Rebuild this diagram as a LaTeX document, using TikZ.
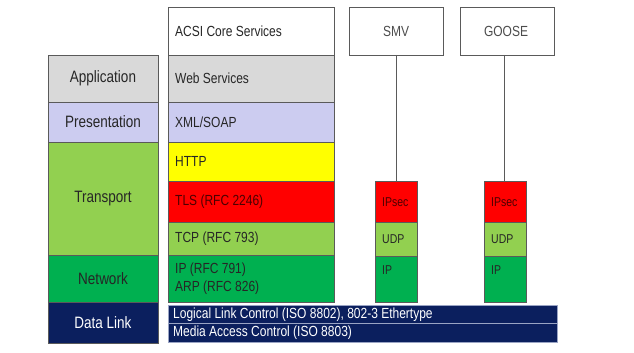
\documentclass[tikz,border=0pt]{standalone}
\usepackage{fontspec}
\setmainfont{Liberation Sans}
\usepackage{graphicx}
\definecolor{edge}{HTML}{5A5A5A}
\definecolor{appgray}{HTML}{D9D9D9}
\definecolor{preslav}{HTML}{CCCCF0}
\definecolor{lgreen}{HTML}{92D050}
\definecolor{dgreen}{HTML}{00B050}
\definecolor{yel}{HTML}{FFFF00}
\definecolor{rd}{HTML}{FF0000}
\definecolor{navy}{HTML}{0B1F5E}
\definecolor{navyedge}{HTML}{9AA4C4}
\definecolor{ink}{HTML}{262626}
\newcommand\tall[1]{\scalebox{1}[1.22]{#1}}
\tikzset{
  layer/.style={draw=edge, line width=0.8pt},
  osilabel/.style={font=\fontsize{13.5}{15}\selectfont, text=ink, inner sep=0pt},
  stacklabel/.style={font=\fontsize{12}{14}\selectfont, text=ink, inner sep=0pt, anchor=west},
  smalllabel/.style={font=\fontsize{10.5}{12}\selectfont, text=ink, inner sep=0pt, anchor=west},
  toplabel/.style={font=\fontsize{12}{13}\selectfont, text=black!70, inner sep=0pt},
  linklabel/.style={font=\fontsize{12}{13}\selectfont, text=white, inner sep=0pt, anchor=west},
  linkbar/.style={fill=navy, draw=navyedge, line width=0.8pt},
  wire/.style={draw=edge, line width=0.9pt},
}
\begin{document}
\begin{tikzpicture}[x=1pt, y=-1pt]
\useasboundingbox[fill=white] (0,0) rectangle (634,353);

% OSI layer column
\draw[layer, fill=appgray] (48,55) rectangle (158,102);
\draw[layer, fill=preslav] (48,102) rectangle (158,142);
\draw[layer, fill=lgreen] (48,142) rectangle (158,255);
\draw[layer, fill=dgreen] (48,255) rectangle (158,302);
\draw[layer, fill=navy] (48,302) rectangle (158,343);
\node[osilabel] (app) at (103,78.5) {\tall{Application}};
\node[osilabel] (pres) at (103,122) {\tall{Presentation}};
\node[osilabel] (trans) at (103,198.5) {\tall{Transport}};
\node[osilabel] (net) at (103,278.5) {\tall{Network}};
\node[osilabel, text=white] (dl) at (103,322.5) {\tall{Data Link}};

% MMS / web services stack
\draw[layer, fill=white] (168,7) rectangle (334,55);
\draw[layer, fill=appgray] (168,55) rectangle (334,102);
\draw[layer, fill=preslav] (168,102) rectangle (334,142);
\draw[layer, fill=yel] (168,142) rectangle (334,181);
\draw[layer, fill=rd] (168,181) rectangle (334,222);
\draw[layer, fill=lgreen] (168,222) rectangle (334,255);
\draw[layer, fill=dgreen] (168,255) rectangle (334,302);
\node[stacklabel] (acsi) at (175,31) {\tall{ACSI Core Services}};
\node[stacklabel] (web) at (175,78.5) {\tall{Web Services}};
\node[stacklabel] (xml) at (175,122) {\tall{XML/SOAP}};
\node[stacklabel] (http) at (175,161.5) {\tall{HTTP}};
\node[stacklabel, text=black!70!red] (tls) at (175,201.5) {\tall{TLS (RFC 2246)}};
\node[stacklabel] (tcp) at (175,238.5) {\tall{TCP (RFC 793)}};
\node[stacklabel] (ip) at (175,270) {\tall{IP (RFC 791)}};
\node[stacklabel] (arp) at (175,287.5) {\tall{ARP (RFC 826)}};

% SMV and GOOSE headers
\draw[layer, fill=white] (349,7) rectangle (443,55);
\draw[layer, fill=white] (460,7) rectangle (554,55);
\node[toplabel] (smv) at (396,31) {\tall{SMV}};
\node[toplabel] (goose) at (506,31) {\tall{GOOSE}};
\coordinate (smvtop) at (396,55);
\coordinate (goosetop) at (504,55);

% SMV stack
\draw[layer, fill=rd] (375,181) rectangle (417,222);
\draw[layer, fill=lgreen] (375,222) rectangle (417,256);
\draw[layer, fill=dgreen] (375,256) rectangle (417,302);
\coordinate (smvsec) at (396,181);
\node[smalllabel, text=black!70!red] (smvipsec) at (382,202) {\tall{IPsec}};
\node[smalllabel] (smvudp) at (382,239) {\tall{UDP}};
\node[smalllabel] (smvip) at (382,270) {\tall{IP}};

% GOOSE stack
\draw[layer, fill=rd] (484,181) rectangle (526,222);
\draw[layer, fill=lgreen] (484,222) rectangle (526,256);
\draw[layer, fill=dgreen] (484,256) rectangle (526,302);
\coordinate (goosesec) at (504,181);
\node[smalllabel, text=black!70!red] (gooseipsec) at (491,202) {\tall{IPsec}};
\node[smalllabel] (gooseudp) at (491,239) {\tall{UDP}};
\node[smalllabel] (gooseip) at (491,270) {\tall{IP}};

\draw[wire] (smvtop) -- (smvsec);
\draw[wire] (goosetop) -- (goosesec);

% data link bars
\draw[linkbar] (168,305) rectangle (557,323.5);
\draw[linkbar] (168,323.5) rectangle (557,342);
\node[linklabel] (llc) at (173,314.5) {\tall{Logical Link Control (ISO 8802), 802-3 Ethertype}};
\node[linklabel] (mac) at (173,333) {\tall{Media Access Control (ISO 8803)}};
\end{tikzpicture}
\end{document}
